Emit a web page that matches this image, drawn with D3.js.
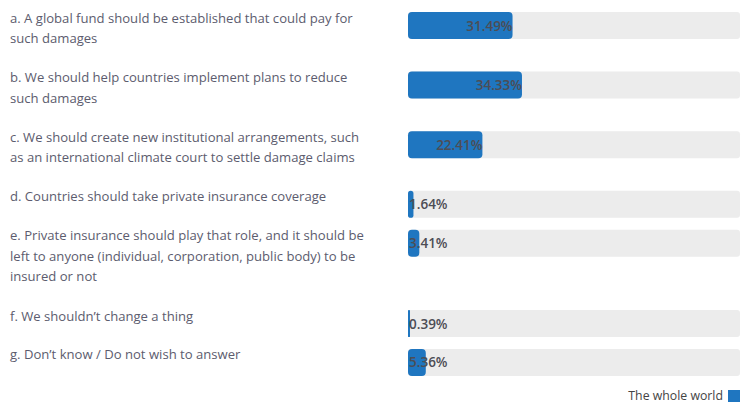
<!DOCTYPE html>
<html>
<head>
<meta charset="utf-8">
<script src="https://cdn.jsdelivr.net/npm/d3@7"></script>
<style>
  html, body { margin: 0; padding: 0; background: #fff; }
  svg { display: block; }
</style>
</head>
<body>
<svg id="chart" width="750" height="403"></svg>
<script>
// Answer options, each split into the lines it wraps onto
const categories = [
  ["a. A global fund should be established that could pay for", "such damages"],
  ["b. We should help countries implement plans to reduce", "such damages"],
  ["c. We should create new institutional arrangements, such", "as an international climate court to settle damage claims"],
  ["d. Countries should take private insurance coverage"],
  ["e. Private insurance should play that role, and it should be", "left to anyone (individual, corporation, public body) to be", "insured or not"],
  ["f. We shouldn\u2019t change a thing"],
  ["g. Don\u2019t know / Do not wish to answer"]
];
// Share of respondents (%) for each option
const values = [31.49, 34.33, 22.41, 1.64, 3.41, 0.39, 5.36];
const seriesName = "The whole world";

const svg = d3.select("#chart");
const blue = "#1f76c0";
const trackColor = "#ececec";
const labelColor = "#5c5c6e";
const barH = 27;
const lineH = 20.5;

// Row offsets follow the number of wrapped label lines
const rowUnits = [];
let acc = 0;
categories.forEach(lines => { rowUnits.push(acc); acc += lines.length + 0.88; });
const y = d3.scaleLinear().domain([0, 1]).range([12, 12 + 20.7]);
const x = d3.scaleLinear().domain([0, 100]).range([408, 740]);

const rows = svg.selectAll("g.row")
  .data(categories.map((lines, i) => ({ lines, value: values[i], top: y(rowUnits[i]) })))
  .join("g")
  .attr("class", "row")
  .attr("transform", d => `translate(0,${d.top})`);

// Category labels
rows.append("text")
  .attr("x", 10)
  .attr("y", 10.5)
  .attr("font-family", "'Open Sans', sans-serif")
  .attr("font-size", 13.1)
  .attr("fill", labelColor)
  .selectAll("tspan")
  .data(d => d.lines)
  .join("tspan")
  .attr("x", 10)
  .attr("dy", (d, i) => i === 0 ? 0 : lineH)
  .text(d => d);

// Background track
rows.append("rect")
  .attr("x", x(0))
  .attr("y", 0)
  .attr("width", x(100) - x(0))
  .attr("height", barH)
  .attr("rx", 3)
  .attr("fill", trackColor);

// Value bars
rows.append("rect")
  .attr("x", x(0))
  .attr("y", 0)
  .attr("width", d => Math.max(x(d.value) - x(0), 2))
  .attr("height", barH)
  .attr("rx", d => Math.min(4, (x(d.value) - x(0)) / 2))
  .attr("fill", blue);

// Value labels: right edge at the bar end, or as far as the text needs
const valueText = rows.append("text")
  .attr("y", barH / 2 + 5)
  .attr("font-family", "'Open Sans', sans-serif")
  .attr("font-size", 13.5)
  .attr("font-weight", 600)
  .attr("fill", "#4d4d55")
  .text(d => d.value.toFixed(2) + "%");

valueText.each(function(d) {
  const w = this.getComputedTextLength();
  const end = Math.max(x(d.value), x(0) + w + 1);
  d3.select(this).attr("x", end).attr("text-anchor", "end");
});

// Legend
const legend = svg.append("g").attr("transform", "translate(740,396)");
legend.append("rect")
  .attr("x", -12).attr("y", -6)
  .attr("width", 12).attr("height", 12)
  .attr("fill", blue);
legend.append("text")
  .attr("x", -17).attr("y", 4)
  .attr("text-anchor", "end")
  .attr("font-family", "'Open Sans', sans-serif")
  .attr("font-size", 12.3)
  .attr("fill", "#444")
  .text(seriesName);
</script>
</body>
</html>
